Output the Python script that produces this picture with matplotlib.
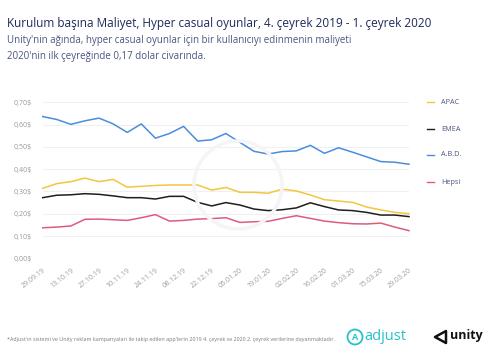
import matplotlib
matplotlib.use("Agg")
import matplotlib.pyplot as plt
from matplotlib.patches import Ellipse, Polygon

dates = ["29.09.19", "06.10.19", "13.10.19", "20.10.19", "27.10.19", "03.11.19", "10.11.19",
         "17.11.19", "24.11.19", "01.12.19", "08.12.19", "15.12.19", "22.12.19", "29.12.19",
         "05.01.20", "12.01.20", "19.01.20", "26.01.20", "02.02.20", "09.02.20", "16.02.20",
         "23.02.20", "01.03.20", "08.03.20", "15.03.20", "22.03.20", "29.03.20"]

abd = [0.636, 0.623, 0.601, 0.617, 0.629, 0.603, 0.565, 0.603, 0.539, 0.560, 0.592, 0.526,
       0.532, 0.560, 0.520, 0.480, 0.468, 0.479, 0.482, 0.507, 0.471, 0.496, 0.476, 0.455,
       0.434, 0.431, 0.422]
apac = [0.314, 0.335, 0.344, 0.360, 0.344, 0.354, 0.319, 0.323, 0.327, 0.329, 0.329, 0.329,
        0.306, 0.318, 0.296, 0.296, 0.292, 0.310, 0.302, 0.284, 0.263, 0.257, 0.251, 0.230,
        0.217, 0.206, 0.200]
emea = [0.272, 0.283, 0.285, 0.290, 0.287, 0.280, 0.272, 0.272, 0.266, 0.278, 0.278, 0.251,
        0.235, 0.250, 0.239, 0.221, 0.214, 0.218, 0.226, 0.249, 0.232, 0.217, 0.214, 0.206,
        0.194, 0.194, 0.187]
hepsi = [0.137, 0.140, 0.145, 0.175, 0.176, 0.173, 0.170, 0.182, 0.196, 0.167, 0.170, 0.176,
         0.178, 0.182, 0.161, 0.164, 0.166, 0.179, 0.191, 0.179, 0.167, 0.160, 0.155, 0.154,
         0.158, 0.140, 0.124]

yticks = [0.0, 0.1, 0.2, 0.3, 0.4, 0.5, 0.6, 0.7]
ytick_labels = ["0,00$", "0,10$", "0,20$", "0,30$", "0,40$", "0,50$", "0,60$", "0,70$"]

series = [("APAC", apac, "#f3c63f"), ("EMEA", emea, "#1e1e1e"),
          ("A.B.D.", abd, "#4a8ddc"), ("Hepsi", hepsi, "#df5b7d")]

plt.rcParams['font.family'] = ['Open Sans', 'DejaVu Sans']

W, H = 485, 360
fig = plt.figure(figsize=(W / 100, H / 100), dpi=100)
fig.patch.set_facecolor("white")


def fx(px):
    return px / W


def fy(py):
    return 1 - py / H


# faint watermark ring (behind the axes)
fig.patches.append(Ellipse((fx(238), fy(185)), 2 * 44 / W, 2 * 44 / H, transform=fig.transFigure,
                           fill=False, lw=2.5, ec="#f5f5f5", zorder=0))

x0, x1 = 42.7, 409.0
ytop, ybot = 102.3, 258.3
ax = fig.add_axes([x0 / W, 1 - ybot / H, (x1 - x0) / W, (ybot - ytop) / H])
ax.set_facecolor("none")

xs = list(range(len(dates)))
for name, vals, col in series:
    ax.plot(xs, vals, color=col, lw=1.1, clip_on=False, zorder=3)

ax.set_xlim(0, len(dates) - 1)
ax.set_ylim(0, 0.70)
ax.set_yticks(yticks)
ax.set_yticklabels(ytick_labels)
ax.set_xticks(xs[::2])
ax.set_xticklabels(dates[::2], rotation=38, ha="right", rotation_mode="anchor")
for s in ax.spines.values():
    s.set_visible(False)
ax.grid(axis="y", color="#f0f0f0", lw=0.8)
ax.tick_params(axis="both", length=0, labelsize=5, colors="#9a9a9a")
ax.tick_params(axis="y", pad=8)
ax.tick_params(axis="x", pad=6)

# Legend
leg_y = [102, 129, 155, 182]
for (name, vals, col), yy in zip(series, leg_y):
    fig.add_artist(plt.Line2D([fx(427), fx(434)], [fy(yy), fy(yy)], color=col, lw=1.0,
                              transform=fig.transFigure))
    fig.text(fx(441), fy(yy), name, fontsize=5.2, color="#4a5580", va="center", ha="left")

fig.text(fx(7), fy(24), "Kurulum başına Maliyet, Hyper casual oyunlar, 4. çeyrek 2019 - 1. çeyrek 2020",
         fontsize=8.5, color="#1d2a5c", va="center", ha="left")
fig.text(fx(7), fy(40.5), "Unity'nin ağında, hyper casual oyunlar için bir kullanıcıyı edinmenin maliyeti",
         fontsize=7.0, color="#4a5580", va="center", ha="left")
fig.text(fx(7), fy(57), "2020'nin ilk çeyreğinde 0,17 dolar civarında.",
         fontsize=7.0, color="#4a5580", va="center", ha="left")

fig.text(fx(7), fy(339),
         "*Adjust'ın sistemi ve Unity reklam kampanyaları ile takip edilen app'lerin 2019 4. çeyrek ve 2020 2. çeyrek verilerine dayanmaktadır.",
         fontsize=3.85, color="#7a7a7a", va="center", ha="left")

# logos drawn as simple shapes + text
fig.patches.append(Ellipse((fx(355), fy(337)), 2 * 7.5 / W, 2 * 7.5 / H, transform=fig.transFigure,
                           fill=False, lw=1.3, ec="#27c0cc"))
fig.text(fx(355), fy(337), "A", fontsize=6.5, color="#27c0cc", ha="center", va="center",
         fontweight="bold")
fig.text(fx(364), fy(336), "adjust", fontsize=10.5, color="#27c0cc", ha="left", va="center")
fig.patches.append(Polygon([(fx(435), fy(337)), (fx(446), fy(331)), (fx(446), fy(343))],
                           closed=True, fill=False, lw=1.8, ec="#111111", transform=fig.transFigure,
                           joinstyle="round"))
fig.text(fx(450), fy(336), "unity", fontsize=9, color="#111111", ha="left", va="center",
         fontweight="bold")

fig.savefig("out.png", dpi=100, facecolor="white")
